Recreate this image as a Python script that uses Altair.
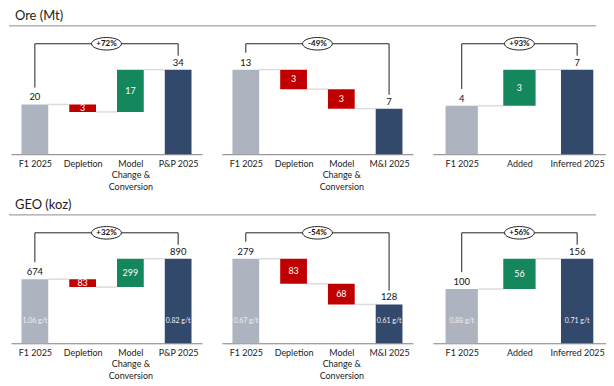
import json
import altair as alt
import pandas as pd

# ---------------- data ----------------
row_titles = ["Ore (Mt)", "GEO (koz)"]
cats_pp = ["F1 2025", "Depletion", "Model|Change &|Conversion", "P&P 2025"]
cats_mi = ["F1 2025", "Depletion", "Model|Change &|Conversion", "M&I 2025"]
cats_inf = ["F1 2025", "Added", "Inferred 2025"]

ore_pp = [20, -3, 17, 34]
ore_mi = [13, -3, -3, 7]
ore_inf = [4, 3, 7]
geo_pp = [674, -83, 299, 890]
geo_mi = [279, -83, -68, 128]
geo_inf = [100, 56, 156]

ore_pct = ["+72%", "-49%", "+93%"]
geo_pct = ["+32%", "-54%", "+56%"]
geo_grades = [["1.06 g/t", "0.82 g/t"], ["0.67 g/t", "0.61 g/t"], ["0.88 g/t", "0.71 g/t"]]

# ---------------- style ----------------
FONT = "Lato"
C_START = "#adb4c0"
C_END = "#33496b"
C_UP = "#14875c"
C_DOWN = "#c00000"
BAR_PX = 85.0      # pixel height of the tallest bar
PLOT_H = 111       # plot height (bracket sits at top)
OVAL = "M-1,0A1,0.42,0,1,1,1,0A1,0.42,0,1,1,-1,0Z"


def panel(cats, vals, pct, width, grades=None, title=None):
    n = len(cats)
    recs, conns = [], []
    level = 0
    for i, v in enumerate(vals):
        end = i in (0, n - 1)
        if end:
            lo, hi = 0, v
            col = C_START if i == 0 else C_END
            level = v
        else:
            lo, hi = sorted([level, level + v])
            col = C_UP if v > 0 else C_DOWN
            level += v
        recs.append(dict(x0=i - 0.28, x1=i + 0.28, xc=i, lo=lo, hi=hi,
                         mid=(lo + hi) / 2, col=col, lab=str(abs(v)), end=end))
        if i < n - 1:
            conns.append(dict(x0=i + 0.28, x1=i + 1 - 0.28, y=level))
    df = pd.DataFrame(recs)
    mx = df["hi"].max()
    ppu = BAR_PX / mx
    top = mx * PLOT_H / BAR_PX

    xscale = alt.Scale(domain=[-0.5, n - 0.5], nice=False, zero=False)
    yscale = alt.Scale(domain=[0, top], nice=False, zero=False)
    axis = alt.Axis(values=list(range(n)),
                    labelExpr=f"split({json.dumps(cats)}[datum.value], '|')",
                    title=None, ticks=False, grid=False, domain=True,
                    domainColor="#7f7f7f", domainWidth=1, labelFont=FONT,
                    labelFontSize=9, labelColor="#222222", labelPadding=5,
                    labelLineHeight=11.5, labelAngle=0, labelBaseline="top")

    def X(f):
        return alt.X(f, scale=xscale, axis=axis)

    def Y(f):
        return alt.Y(f, scale=yscale, axis=None)

    bars = alt.Chart(df).mark_bar().encode(
        x=X("x0:Q"), x2="x1", y=Y("lo:Q"), y2="hi",
        color=alt.Color("col:N", scale=None))

    conn = alt.Chart(pd.DataFrame(conns)).mark_rule(color="#dcdcdc", strokeWidth=1.5).encode(
        x=X("x0:Q"), x2="x1", y=Y("y:Q"))

    top_lab = alt.Chart(df[df["end"]]).mark_text(
        baseline="alphabetic", dy=-4, font=FONT, fontSize=9.5, color="#111111").encode(
        x=X("xc:Q"), y=Y("hi:Q"), text="lab:N")

    in_lab = alt.Chart(df[~df["end"]]).mark_text(
        baseline="middle", font=FONT, fontSize=9, color="white").encode(
        x=X("xc:Q"), y=Y("mid:Q"), text="lab:N")

    brk = pd.DataFrame([
        dict(x=0, x2=n - 1, y=top, y2=top),
        dict(x=0, x2=0, y=recs[0]["hi"] + 17 / ppu, y2=top),
        dict(x=n - 1, x2=n - 1, y=recs[-1]["hi"] + 14 / ppu, y2=top),
    ])
    bracket = alt.Chart(brk).mark_rule(color="#222222", strokeWidth=1).encode(
        x=X("x:Q"), x2="x2", y=Y("y:Q"), y2="y2")

    odf = pd.DataFrame([dict(x=(n - 1) / 2, y=top, t=pct)])
    oval = alt.Chart(odf).mark_point(shape=OVAL, size=900, filled=True, fill="white",
                                     stroke="#222222", strokeWidth=1, opacity=1).encode(
        x=X("x:Q"), y=Y("y:Q"))
    otext = alt.Chart(odf).mark_text(font=FONT, fontSize=8, fontWeight="bold",
                                     color="#111111", baseline="middle").encode(
        x=X("x:Q"), y=Y("y:Q"), text="t:N")

    layers = [conn, bars, top_lab, in_lab, bracket, oval, otext]

    if grades is not None:
        gdf = pd.DataFrame([dict(x=0, y=22 / ppu, t=grades[0]),
                            dict(x=n - 1, y=22 / ppu, t=grades[1])])
        layers.append(alt.Chart(gdf).mark_text(font=FONT, fontSize=7, color="#eef0f4",
                                               baseline="middle").encode(
            x=X("x:Q"), y=Y("y:Q"), text="t:N"))

    if title is not None:
        tdf = pd.DataFrame([dict(t=title)])
        layers.append(alt.Chart(tdf).mark_text(align="left", baseline="middle", font=FONT,
                                               fontSize=13, color="#222222").encode(
            x=alt.value(4), y=alt.value(-28), text="t:N"))
        layers.append(alt.Chart(tdf).mark_rule(color="#8c8c8c", strokeWidth=1).encode(
            x=alt.value(-2), x2=alt.value(588), y=alt.value(-18)))

    return alt.layer(*layers).properties(width=width, height=PLOT_H)


panels = [
    panel(cats_pp, ore_pp, ore_pct[0], 192, title=row_titles[0]),
    panel(cats_mi, ore_mi, ore_pct[1], 192),
    panel(cats_inf, ore_inf, ore_pct[2], 174),
    panel(cats_pp, geo_pp, geo_pct[0], 192, grades=geo_grades[0], title=row_titles[1]),
    panel(cats_mi, geo_mi, geo_pct[1], 192, grades=geo_grades[1]),
    panel(cats_inf, geo_inf, geo_pct[2], 174, grades=geo_grades[2]),
]

chart = alt.concat(
    *panels, columns=3, spacing={"row": 79, "column": 20}, bounds="flush", align="none"
).resolve_scale(x="independent", y="independent").properties(
    padding={"top": 1, "left": 0, "right": 0, "bottom": 0}
).configure_view(stroke=None)

chart.save("out.html", embed_options={"renderer": "svg", "actions": False})
